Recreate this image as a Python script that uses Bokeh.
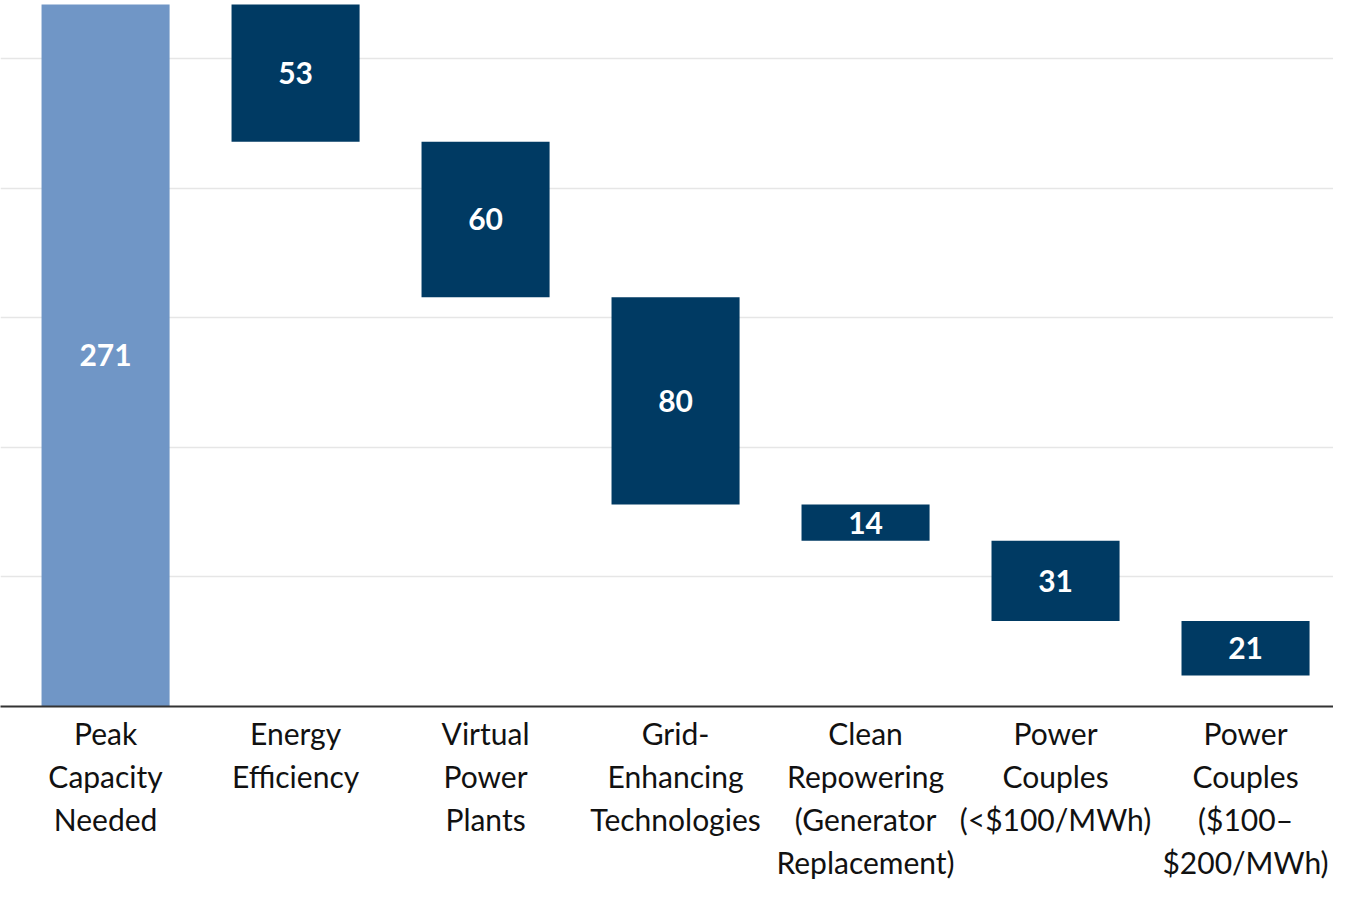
from bokeh.plotting import figure
from bokeh.models import ColumnDataSource, FixedTicker, Range1d
from bokeh.embed import file_html
from bokeh.resources import INLINE
from bokeh.core.properties import value

categories = [
    "Peak\nCapacity\nNeeded",
    "Energy\nEfficiency",
    "Virtual\nPower\nPlants",
    "Grid-\nEnhancing\nTechnologies",
    "Clean\nRepowering\n(Generator\nReplacement)",
    "Power\nCouples\n(<$100/MWh)",
    "Power\nCouples\n($100–\n$200/MWh)",
]
values = [271, 53, 60, 80, 14, 31, 21]
grid_ticks = [50, 100, 150, 200, 250]

FONT = "Lato"
LIGHT = "#7096c6"
DARK = "#003a63"

# waterfall: first bar from 0, the rest step down from the running total
tops, bottoms = [], []
level = 0
for i, v in enumerate(values):
    if i == 0:
        bottoms.append(0)
        tops.append(v)
        level = v
    else:
        tops.append(level)
        level -= v
        bottoms.append(level)

xs = list(range(len(values)))
src = ColumnDataSource(dict(
    x=xs,
    top=tops,
    bottom=bottoms,
    mid=[(t + b) / 2 for t, b in zip(tops, bottoms)],
    label=[str(v) for v in values],
    color=[LIGHT] + [DARK] * (len(values) - 1),
))

p = figure(width=1333, height=883, output_backend="svg", toolbar_location=None,
           x_range=Range1d(-0.553, 6.463), y_range=Range1d(0, 272.5),
           min_border_left=0, min_border_right=0, min_border_top=0,
           min_border_bottom=0)

p.vbar(x="x", top="top", bottom="bottom", width=0.674, fill_color="color",
       line_color=None, source=src)
p.text(x="x", y="mid", text="label", source=src, text_color="white",
       text_font=value(FONT), text_font_style="bold", text_font_size="30px",
       text_align="center", text_baseline="middle")

p.outline_line_color = None
p.xgrid.grid_line_color = None
p.ygrid.ticker = FixedTicker(ticks=grid_ticks)
p.ygrid.grid_line_color = "#e6e6e6"
p.ygrid.grid_line_width = 1.5
p.yaxis.visible = False

p.xaxis.ticker = FixedTicker(ticks=xs)
p.xaxis.major_label_overrides = {i: c for i, c in zip(xs, categories)}
p.xaxis.axis_line_color = "#333333"
p.xaxis.axis_line_width = 2
p.xaxis.major_tick_line_color = None
p.xaxis.minor_tick_line_color = None
p.xaxis.major_label_standoff = 2
p.xaxis.major_label_text_font = FONT
p.xaxis.major_label_text_font_size = "30px"
p.xaxis.major_label_text_color = "#111111"

open("out.html", "w").write(file_html(p, INLINE))
